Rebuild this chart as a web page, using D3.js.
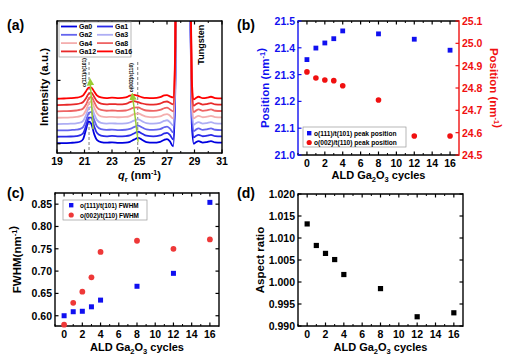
<!DOCTYPE html>
<html><head><meta charset="utf-8">
<script src="https://cdn.jsdelivr.net/npm/d3@7"></script>
<style>body{margin:0;background:#fff}text{font-family:"Liberation Sans",Arial,sans-serif;font-weight:bold}</style>
</head><body>
<script>
// ---------- DATA ----------
const qGrid = [19,19.5,20,20.4,20.7,20.9,21.1,21.3,21.5,21.7,21.9,22.2,22.6,23,23.5,24,24.3,24.6,24.9,25.2,25.5,26,26.5,26.8,27.0,27.2,27.45,27.6,27.75,27.9,28.5,28.65,28.8,28.95,29.1,29.3,29.6,29.9,30.2,30.5,31];
const tail = [40,250,300,300,150,15,-0.5,0.6,1.5,0.4,0.8,1.5,0.5,0.3];
const sampleNames = ["Ga0","Ga1","Ga2","Ga3","Ga4","Ga8","Ga12","Ga16"];
const sampleColors = ["#0000e0","#2a2ae8","#6464ee","#aeaef4","#f4aeae","#ee6464","#e82a2a","#ff0000"];
const spectraHead = [
 [0,0,0.2,0.5,1.2,3,10,16.5,14.5,7,2.5,0.8,0.3,0.6,0.2,0.4,1,2.6,4,2.4,0.8,0.3,1,2.5,3,1.5,-2.5],
 [0,0.1,0.2,0.5,1.2,2.6,8,14.5,14.5,8,3,0.9,0.3,0.6,0.3,0.5,1,2.5,3.8,2.3,0.8,0.3,1,2.5,3,1.6,-2],
 [0,0.1,0.3,0.6,1.2,2.5,7,13,14,8,3.2,1,0.4,0.6,0.3,0.5,1.1,2.5,3.6,2.2,0.8,0.4,1,2.4,2.9,1.6,-1.5],
 [0,0.1,0.3,0.6,1.2,2.4,6.5,12,13,7.8,3.2,1,0.4,0.6,0.3,0.5,1.2,2.6,3.5,2.1,0.8,0.4,1,2.4,2.9,1.6,-1],
 [0,0.1,0.3,0.6,1.2,2.2,5.5,10.5,12.5,8,3.4,1.1,0.5,0.7,0.4,0.6,1.3,2.7,3.3,2,0.8,0.4,1,2.4,2.8,1.7,-0.5],
 [0,0.2,0.3,0.7,1.3,2.2,5,9.5,11,7.2,3.2,1.1,0.5,0.7,0.4,0.7,1.6,2.9,3,1.7,0.7,0.4,1.1,2.4,2.8,1.7,0],
 [0,0.2,0.3,0.7,1.4,2.3,5,8.5,9.5,6.3,3,1.1,0.5,0.8,0.5,0.9,2.2,3,2.2,1.2,0.6,0.4,1.1,2.4,2.7,1.8,0.5],
 [0,0.2,0.4,0.8,1.5,2.6,5.5,8.5,8.5,5.5,2.6,1,0.5,0.8,0.5,1,2.3,3,2.1,1.1,0.6,0.4,1.2,2.5,2.8,1.8,1]
];
const peakRefQ = [21.33, 24.87];
const peakLabels = ["o(111)/t(101)","o(002)/t(110)"];
const aXTicks = [19,21,23,25,27,29,31];

const cycles = [0,1,2,3,4,8,12,16];
const pos111 = [21.356,21.399,21.418,21.434,21.463,21.452,21.432,21.391];
const pos002 = [24.872,24.845,24.836,24.833,24.810,24.746,24.585,24.585];
const fwhm111 = [0.600,0.609,0.610,0.620,0.635,0.666,0.695,0.854];
const fwhm002 = [0.580,0.629,0.654,0.686,0.743,0.768,0.750,0.771];
const aspect = [1.0132,1.0083,1.0065,1.0051,1.0017,0.9985,0.9921,0.9930];
const cycleTicks = [0,2,4,6,8,10,12,14,16];

// ---------- SETUP ----------
const W=507,H=363;
const svg = d3.select("body").append("svg").attr("width",W).attr("height",H);
const BLUE="#1010f0", RED="#f01010";

function frame(x0,x1,y0,y1,cl){
  const c = cl||{};
  svg.append("line").attr("x1",x0).attr("x2",x1).attr("y1",y0).attr("y2",y0).attr("stroke","#000").attr("stroke-width",1.4);
  svg.append("line").attr("x1",x0).attr("x2",x1).attr("y1",y1).attr("y2",y1).attr("stroke","#000").attr("stroke-width",1.4);
  svg.append("line").attr("x1",x0).attr("x2",x0).attr("y1",y0-0.7).attr("y2",y1+0.7).attr("stroke",c.left||"#000").attr("stroke-width",1.4);
  svg.append("line").attr("x1",x1).attr("x2",x1).attr("y1",y0-0.7).attr("y2",y1+0.7).attr("stroke",c.right||"#000").attr("stroke-width",1.4);
}
function xTicks(x,y0,y1,major,minor,fmt){
  const g=svg.append("g");
  minor.forEach(v=>{
    g.append("line").attr("x1",x(v)).attr("x2",x(v)).attr("y1",y1).attr("y2",y1-2).attr("stroke","#000");
    g.append("line").attr("x1",x(v)).attr("x2",x(v)).attr("y1",y0).attr("y2",y0+2).attr("stroke","#000");
  });
  major.forEach(v=>{
    g.append("line").attr("x1",x(v)).attr("x2",x(v)).attr("y1",y1).attr("y2",y1-3.5).attr("stroke","#000").attr("stroke-width",1.2);
    g.append("line").attr("x1",x(v)).attr("x2",x(v)).attr("y1",y0).attr("y2",y0+3.5).attr("stroke","#000").attr("stroke-width",1.2);
    g.append("text").attr("x",x(v)).attr("y",y1+11.5).attr("text-anchor","middle").attr("font-size",10.5).text(fmt?fmt(v):v);
  });
}
function yTicksLeft(y,x0,vals,fmt,col,x1){
  vals.forEach(v=>{
    svg.append("line").attr("x1",x0).attr("x2",x0+3.5).attr("y1",y(v)).attr("y2",y(v)).attr("stroke",col).attr("stroke-width",1.2);
    if(x1!==undefined) svg.append("line").attr("x1",x1).attr("x2",x1-3.5).attr("y1",y(v)).attr("y2",y(v)).attr("stroke",col).attr("stroke-width",1.2);
    if(fmt) svg.append("text").attr("x",x0-3).attr("y",y(v)+4).attr("text-anchor","end").attr("font-size",10.5).attr("fill",col).text(fmt(v));
  });
}
function cyclesLabel(cx,y){
  const t=svg.append("text").attr("x",cx).attr("y",y).attr("text-anchor","middle").attr("font-size",11);
  t.append("tspan").text("ALD Ga");
  t.append("tspan").attr("font-size",7.5).attr("dy",2.5).text("2");
  t.append("tspan").attr("dy",-2.5).text("O");
  t.append("tspan").attr("font-size",7.5).attr("dy",2.5).text("3");
  t.append("tspan").attr("dy",-2.5).text(" cycles");
}
function rotLabel(x,y,angle,parts,col,size){
  const t=svg.append("text").attr("transform",`translate(${x},${y}) rotate(${angle})`).attr("text-anchor","middle").attr("font-size",size||11.5).attr("fill",col||"#000");
  parts.forEach(p=>{
    if(p.sup){ t.append("tspan").attr("font-size",7.5).attr("dy",-4).text(p.t); t.append("tspan").attr("dy",4).text(""); }
    else t.append("tspan").text(p.t);
  });
  return t;
}
function panelTag(x,y,s){ svg.append("text").attr("x",x).attr("y",y).attr("font-size",14).text(s); }

// ---------- PANEL (a) ----------
{
  const X0=57,X1=222,Y0=21,Y1=153;
  const x=d3.scaleLinear().domain([19,31]).range([X0,X1]);
  const y=d3.scaleLinear().domain([0,100]).range([Y1,Y0]);
  const offsetStep=4.8, base=7.5;
  svg.append("clipPath").attr("id","clipA").append("rect").attr("x",X0).attr("y",Y0).attr("width",X1-X0).attr("height",Y1-Y0);
  const gp=svg.append("g").attr("clip-path","url(#clipA)");
  peakRefQ.forEach(q=>{
    gp.append("line").attr("x1",x(q)).attr("x2",x(q)).attr("y1",y(69)).attr("y2",Y1).attr("stroke","#888").attr("stroke-width",1.1).attr("stroke-dasharray","3,2");
  });
  const line=d3.line().x((d,i)=>x(qGrid[i])).y(d=>y(d)).curve(d3.curveMonotoneX);
  spectraHead.forEach((head,k)=>{
    const vals=head.concat(tail).map(v=>v+base+k*offsetStep);
    gp.append("path").attr("d",line(vals)).attr("fill","none").attr("stroke",sampleColors[k]).attr("stroke-width",1.8);
  });
  const defs=svg.append("defs");
  defs.append("marker").attr("id","arrG").attr("viewBox","0 0 10 10").attr("refX",5).attr("refY",5).attr("markerWidth",5).attr("markerHeight",5).attr("orient","auto")
    .append("path").attr("d","M0,0 L10,5 L0,10 z").attr("fill","#99cc33");
  const arrows=[[[21.62,18],[21.42,54]],[[24.9,8.5],[24.5,43]]];
  arrows.forEach(a=>{
    gp.append("line").attr("x1",x(a[0][0])).attr("y1",y(a[0][1])).attr("x2",x(a[1][0])).attr("y2",y(a[1][1]))
      .attr("stroke","#99cc33").attr("stroke-width",1.5).attr("marker-end","url(#arrG)");
  });
  [[21.1,61],[24.53,57]].forEach((p,i)=>{
    svg.append("text").attr("transform",`translate(${x(p[0])},${y(p[1])}) rotate(-90)`).attr("text-anchor","middle").attr("font-size",5).attr("font-weight","normal").text(peakLabels[i]);
  });
  svg.append("text").attr("transform",`translate(${x(29.45)+3},${y(82)}) rotate(-90)`).attr("text-anchor","middle").attr("font-size",9).attr("font-weight","normal").text("Tungsten");
  frame(X0,X1,Y0,Y1);
  const minorA=d3.range(20,31,2);
  xTicks(x,Y0,Y1,aXTicks,minorA);
  yTicksLeft(y,X0,[7,55],null,"#000");
  svg.append("rect").attr("x",59).attr("y",22).attr("width",72).attr("height",35).attr("fill","#fff").attr("stroke","#999").attr("stroke-width",0.7);
  sampleNames.forEach((n,k)=>{
    const col=k%2, row=Math.floor(k/2);
    const lx=61+col*36, ly=26.5+row*8.3;
    svg.append("line").attr("x1",lx).attr("x2",lx+16).attr("y1",ly).attr("y2",ly).attr("stroke",sampleColors[k]).attr("stroke-width",1.8);
    svg.append("text").attr("x",lx+18).attr("y",ly+2.5).attr("font-size",7).text(n);
  });
  const t=svg.append("text").attr("x",(X0+X1)/2).attr("y",179).attr("text-anchor","middle").attr("font-size",11);
  t.append("tspan").attr("font-style","italic").text("q");
  t.append("tspan").attr("font-size",7.5).attr("dy",2.5).text("r");
  t.append("tspan").attr("dy",-2.5).text(" (nm");
  t.append("tspan").attr("font-size",7).attr("dy",-4).text("-1");
  t.append("tspan").attr("dy",4).text(")");
  rotLabel(48,(Y0+Y1)/2,-90,[{t:"Intensity (a.u.)"}],"#000",11.5).attr("font-weight","normal");
  panelTag(7,30,"(a)");
}

// ---------- PANEL (b) ----------
{
  const X0=298,X1=459,Y0=21,Y1=155;
  const x=d3.scaleLinear().domain([-1,17]).range([X0,X1]);
  const yL=d3.scaleLinear().domain([21.0,21.5]).range([Y1,Y0]);
  const yR=d3.scaleLinear().domain([24.5,25.1]).range([Y1,Y0]);
  frame(X0,X1,Y0,Y1,{left:BLUE,right:RED});
  xTicks(x,Y0,Y1,cycleTicks,d3.range(-1,17,1).filter(v=>v%2!==0));
  yTicksLeft(yL,X0,d3.range(0,6).map(i=>21+i*0.1),d=>d.toFixed(1),BLUE);
  d3.range(0,7).map(i=>24.5+i*0.1).forEach(v=>{
    svg.append("line").attr("x1",X1).attr("x2",X1-3.5).attr("y1",yR(v)).attr("y2",yR(v)).attr("stroke",RED).attr("stroke-width",1.2);
    svg.append("text").attr("x",X1+3).attr("y",yR(v)+4).attr("font-size",10.5).attr("fill",RED).text(v.toFixed(1));
  });
  svg.selectAll(null).data(cycles).enter().append("rect")
    .attr("x",(d,i)=>x(d)-2.4).attr("y",(d,i)=>yL(pos111[i])-2.4).attr("width",4.8).attr("height",4.8).attr("fill",BLUE);
  svg.selectAll(null).data(cycles).enter().append("circle")
    .attr("cx",(d,i)=>x(d)).attr("cy",(d,i)=>yR(pos002[i])).attr("r",2.8).attr("fill",RED);
  svg.append("rect").attr("x",303).attr("y",127).attr("width",103).attr("height",20).attr("fill","#fff").attr("stroke","#999").attr("stroke-width",0.7);
  svg.append("rect").attr("x",307).attr("y",131).attr("width",4.4).attr("height",4.4).attr("fill",BLUE);
  svg.append("circle").attr("cx",309.2).attr("cy",142.5).attr("r",2.6).attr("fill",RED);
  svg.append("text").attr("x",314).attr("y",135.8).attr("font-size",6.6).text("o(111)/t(101) peak position");
  svg.append("text").attr("x",314).attr("y",145).attr("font-size",6.6).text("o(002)/t(110) peak position");
  cyclesLabel((X0+X1)/2,179);
  rotLabel(269,(Y0+Y1)/2,-90,[{t:"Position (nm"},{t:"-1",sup:true},{t:")"}],BLUE,11.5);
  rotLabel(490,(Y0+Y1)/2,90,[{t:"Position (nm"},{t:"-1",sup:true},{t:")"}],RED,11.5);
  panelTag(237,30,"(b)");
}

// ---------- PANEL (c) ----------
{
  const X0=55,X1=219,Y0=193,Y1=326;
  const x=d3.scaleLinear().domain([-1,17]).range([X0,X1]);
  const y=d3.scaleLinear().domain([0.577,0.875]).range([Y1,Y0]);
  frame(X0,X1,Y0,Y1);
  xTicks(x,Y0,Y1,cycleTicks,d3.range(-1,17,1).filter(v=>v%2!==0));
  yTicksLeft(y,X0,d3.range(0,6).map(i=>0.6+i*0.05),d=>d.toFixed(2),"#000",X1);
  svg.selectAll(null).data(cycles).enter().append("circle")
    .attr("cx",(d,i)=>x(d)).attr("cy",(d,i)=>y(fwhm002[i])).attr("r",2.9).attr("fill","#ee3838");
  svg.selectAll(null).data(cycles).enter().append("rect")
    .attr("x",(d,i)=>x(d)-2.5).attr("y",(d,i)=>y(fwhm111[i])-2.5).attr("width",5).attr("height",5).attr("fill",BLUE);
  svg.append("rect").attr("x",63).attr("y",200).attr("width",84).attr("height",20).attr("fill","#fff").attr("stroke","#999").attr("stroke-width",0.7);
  svg.append("rect").attr("x",69).attr("y",203).attr("width",4.4).attr("height",4.4).attr("fill",BLUE);
  svg.append("circle").attr("cx",71.2).attr("cy",215).attr("r",2.6).attr("fill","#ee3838");
  svg.append("text").attr("x",80).attr("y",207.8).attr("font-size",6.4).text("o(111)/t(101) FWHM");
  svg.append("text").attr("x",80).attr("y",217.5).attr("font-size",6.4).text("o(002)/t(110) FWHM");
  cyclesLabel((X0+X1)/2,351);
  rotLabel(21,(Y0+Y1)/2,-90,[{t:"FWHM(nm"},{t:"-1",sup:true},{t:")"}],"#000",11.5);
  panelTag(7,198,"(c)");
}

// ---------- PANEL (d) ----------
{
  const X0=298,X1=463,Y0=194,Y1=326;
  const x=d3.scaleLinear().domain([-1,17]).range([X0,X1]);
  const y=d3.scaleLinear().domain([0.990,1.020]).range([Y1,Y0]);
  frame(X0,X1,Y0,Y1);
  xTicks(x,Y0,Y1,cycleTicks,d3.range(-1,17,1).filter(v=>v%2!==0));
  yTicksLeft(y,X0,d3.range(0,7).map(i=>0.99+i*0.005),d=>d.toFixed(3),"#000",X1);
  svg.selectAll(null).data(cycles).enter().append("rect")
    .attr("x",(d,i)=>x(d)-2.6).attr("y",(d,i)=>y(aspect[i])-2.6).attr("width",5.2).attr("height",5.2).attr("fill","#000");
  cyclesLabel((X0+X1)/2,351);
  rotLabel(264,(Y0+Y1)/2,-90,[{t:"Aspect ratio"}],"#000",11.5);
  panelTag(237,198,"(d)");
}
</script>
</body></html>
